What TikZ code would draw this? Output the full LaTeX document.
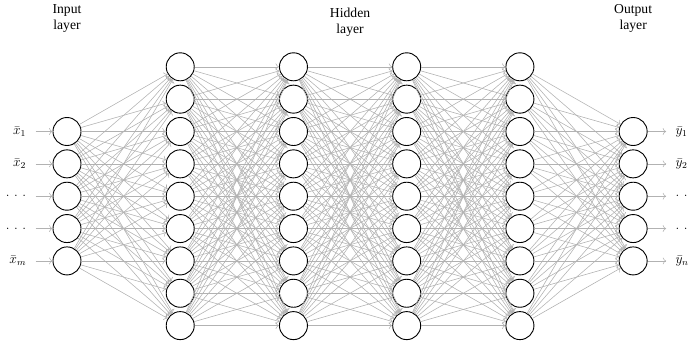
\documentclass[tikz,border=0pt,12pt]{standalone}
\usepackage{amsmath}
\usepackage{fontspec}
\setmainfont{Liberation Serif}
\usetikzlibrary{arrows.meta}

\begin{document}
\begin{tikzpicture}[->,>={To[length=3pt,width=6pt]},
  thick,neuron/.style={circle,draw,thick,minimum size=0.866cm,inner sep=0pt},
  conn/.style={gray!60,line width=0.5pt},
  inlabel/.style={anchor=east,inner xsep=8pt},
  outlabel/.style={anchor=west,inner xsep=8pt}]
\useasboundingbox (-2.071,-4.476) rectangle (19.35,6.065);

% layers
\foreach \i in {1,...,5}
  \node[neuron](I\i) at (0,3-\i) {};
\foreach \l in {1,...,4}
  \foreach \i in {1,...,9}
    \node[neuron](H\l-\i) at (3.5*\l,5-\i) {};
\foreach \i in {1,...,5}
  \node[neuron](O\i) at (17.5,3-\i) {};

% titles
\node[align=center](tin) at (0,5.49) {Input\\layer};
\node[align=center](thid) at (8.75,5.37) {Hidden\\layer};
\node[align=center](tout) at (17.5,5.49) {Output\\layer};

% inputs and outputs
\node[inlabel](X1) at (-0.968,2) {$\bar{x}_1$};
\node[inlabel](X2) at (-0.968,1) {$\bar{x}_2$};
\node[inlabel](X3) at (-0.968,0) {$.\mkern6mu.\mkern6mu.$};
\node[inlabel](X4) at (-0.968,-1) {$.\mkern6mu.\mkern6mu.$};
\node[inlabel](X5) at (-0.968,-2) {$\bar{x}_m$};
\node[outlabel](Y1) at (18.52,2) {$\bar{y}_1$};
\node[outlabel](Y2) at (18.52,1) {$\bar{y}_2$};
\node[outlabel](Y3) at (18.52,0) {$.\mkern6mu.\mkern6mu.$};
\node[outlabel](Y4) at (18.52,-1) {$.\mkern6mu.\mkern6mu.$};
\node[outlabel](Y5) at (18.52,-2) {$\bar{y}_n$};

\foreach \i in {1,...,5} {
  \draw[conn] (X\i) -- (I\i);
  \draw[conn] (O\i) -- (Y\i);
}

% connections
\foreach \i in {1,...,5}
  \foreach \j in {1,...,9}
    \draw[conn] (I\i) -- (H1-\j);
\foreach \l/\m in {1/2,2/3,3/4}
  \foreach \i in {1,...,9}
    \foreach \j in {1,...,9}
      \draw[conn] (H\l-\i) -- (H\m-\j);
\foreach \i in {1,...,9}
  \foreach \j in {1,...,5}
    \draw[conn] (H4-\i) -- (O\j);
\end{tikzpicture}
\end{document}
